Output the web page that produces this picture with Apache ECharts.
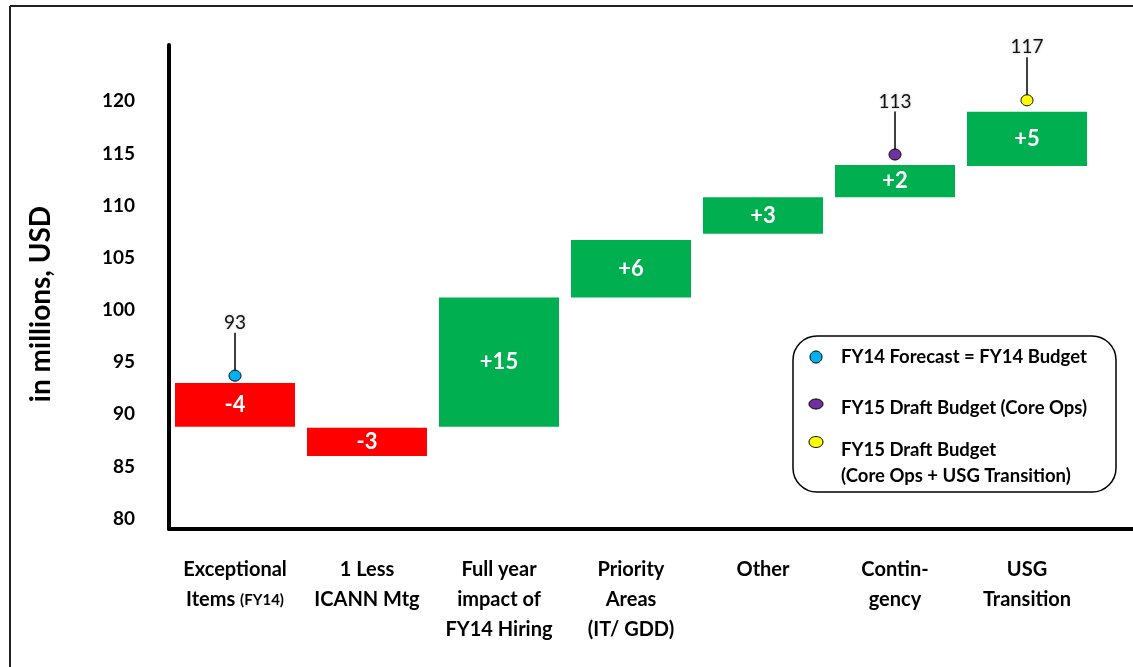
<!DOCTYPE html>
<html>
<head>
<meta charset="utf-8">
<script src="https://cdn.jsdelivr.net/npm/echarts@6.0.0/dist/echarts.min.js"></script>
<style>
  html, body { margin: 0; padding: 0; background: #fff; }
  #main { width: 1133px; height: 667px; }
</style>
</head>
<body>
<div id="main"></div>
<script>
// categories along the bottom
var categories = ['Exceptional\nItems (FY14)', '1 Less\nICANN Mtg', 'Full year\nimpact of\nFY14 Hiring',
    'Priority\nAreas\n(IT/ GDD)', 'Other', 'Contin-\ngency', 'USG\nTransition'];
// waterfall bars: bottom and top of each step
var barLow  = [88.8, 86.0, 88.8, 101.2, 107.3, 110.8, 113.8];
var barHigh = [93.0, 88.7, 101.2, 106.7, 110.8, 113.9, 119.0];
var deltaLabels = ['-4', '-3', '+15', '+6', '+3', '+2', '+5'];
// budget markers
var markerCat = [0, 5, 6];
var markerLevel = [93.7, 114.9, 120.1];
var markerText = ['93', '113', '117'];
var markerColor = ['#00B0F0', '#7030A0', '#FFFF00'];
// y axis tick labels
var yTicks = [80, 85, 90, 95, 100, 105, 110, 115, 120];

var FONT = 'Lato, "Open Sans", sans-serif';
var myChart = echarts.init(document.getElementById('main'));

var baseData = [], deltaData = [];
for (var i = 0; i < categories.length; i++) {
    baseData.push(barLow[i]);
    var up = deltaLabels[i].charAt(0) == '+';
    deltaData.push({
        value: barHigh[i] - barLow[i],
        itemStyle: { color: up ? '#00B050' : '#FF0000' },
        label: { formatter: deltaLabels[i] }
    });
}
var markerData = [];
for (var j = 0; j < markerCat.length; j++) {
    markerData.push([markerCat[j], markerLevel[j], markerText[j], markerColor[j]]);
}

var option = {
    animation: false,
    grid: { left: 169, width: 924, top: 45, bottom: 138 },
    xAxis: {
        type: 'category',
        data: categories,
        axisLine: { lineStyle: { color: '#000', width: 4 } },
        axisTick: { show: false },
        axisLabel: {
            interval: 0,
            margin: 26,
            color: '#000',
            fontFamily: FONT,
            fontWeight: 'bold',
            fontSize: 20,
            lineHeight: 30,
            formatter: function (v) { return v.replace('(FY14)', '{s|(FY14)}'); },
            rich: { s: { fontSize: 15, fontWeight: 'bold', fontFamily: FONT, color: '#000' } }
        }
    },
    yAxis: {
        type: 'value',
        min: 79,
        max: 125.4,
        name: 'in millions, USD',
        nameLocation: 'middle',
        nameRotate: 90,
        nameGap: 114,
        nameTextStyle: { color: '#000', fontFamily: FONT, fontWeight: 'bold', fontSize: 28, padding: [0, 34, 0, 0] },
        axisLine: { show: true, lineStyle: { color: '#000', width: 4 } },
        axisTick: { show: false },
        splitLine: { show: false },
        axisLabel: {
            customValues: yTicks,
            margin: 34,
            color: '#000',
            fontFamily: FONT,
            fontWeight: 'bold',
            fontSize: 19
        }
    },
    series: [
        {
            type: 'bar',
            stack: 'wf',
            data: baseData,
            barWidth: 120,
            itemStyle: { color: 'transparent' },
            silent: true
        },
        {
            type: 'bar',
            stack: 'wf',
            data: deltaData,
            barWidth: 120,
            label: {
                show: true,
                position: 'inside',
                color: '#fff',
                fontFamily: FONT,
                fontWeight: 'bold',
                fontSize: 22
            }
        },
        {
            type: 'custom',
            data: markerData,
            z: 10,
            renderItem: function (params, api) {
                var p = api.coord([api.value(0), api.value(1)]);
                var d = markerData[params.dataIndex];
                return {
                    type: 'group',
                    children: [
                        { type: 'line', shape: { x1: p[0], y1: p[1], x2: p[0], y2: p[1] - 43 },
                          style: { stroke: '#000', lineWidth: 1.5 } },
                        { type: 'ellipse', shape: { cx: p[0], cy: p[1], rx: 6, ry: 5.5 },
                          style: { fill: d[3], stroke: '#000', lineWidth: 1 } },
                        { type: 'text', style: { text: d[2], x: p[0], y: p[1] - 53, align: 'center', verticalAlign: 'middle',
                          fill: '#111', font: '19px ' + FONT, textShadowColor: 'rgba(0,0,0,0.25)', textShadowBlur: 3 } }
                    ]
                };
            }
        }
    ],
    graphic: [
        // outer frame (top and left edges visible)
        { type: 'line', shape: { x1: 10, y1: 6, x2: 1133, y2: 6 }, style: { stroke: '#222', lineWidth: 2 } },
        { type: 'line', shape: { x1: 10, y1: 6, x2: 10, y2: 667 }, style: { stroke: '#222', lineWidth: 2 } },
        // x axis line runs on to the right edge
        { type: 'line', shape: { x1: 1090, y1: 529, x2: 1133, y2: 529 }, style: { stroke: '#000', lineWidth: 4 } },
        // legend box
        { type: 'rect', shape: { x: 793, y: 336, width: 323, height: 156, r: 24 },
          style: { fill: '#fff', stroke: '#000', lineWidth: 1.5 }, z: 5 },
        { type: 'ellipse', shape: { cx: 816, cy: 357, rx: 6, ry: 6 }, style: { fill: '#00B0F0', stroke: '#000', lineWidth: 1 }, z: 6 },
        { type: 'ellipse', shape: { cx: 816, cy: 404, rx: 7, ry: 5 }, style: { fill: '#7030A0', stroke: '#000', lineWidth: 1 }, z: 6 },
        { type: 'ellipse', shape: { cx: 816, cy: 442, rx: 7, ry: 5.5 }, style: { fill: '#FFFF00', stroke: '#000', lineWidth: 1 }, z: 6 },
        { type: 'text', x: 841, y: 357, z: 6, style: { text: 'FY14 Forecast = FY14 Budget', fill: '#000', verticalAlign: 'middle',
          font: 'bold 18.5px ' + FONT } },
        { type: 'text', x: 841, y: 408, z: 6, style: { text: 'FY15 Draft Budget (Core Ops)', fill: '#000', verticalAlign: 'middle',
          font: 'bold 18.5px ' + FONT } },
        { type: 'text', x: 841, y: 450, z: 6, style: { text: 'FY15 Draft Budget', fill: '#000', verticalAlign: 'middle',
          font: 'bold 18.5px ' + FONT } },
        { type: 'text', x: 841, y: 476, z: 6, style: { text: '(Core Ops + USG Transition)', fill: '#000', verticalAlign: 'middle',
          font: 'bold 18.5px ' + FONT } }
    ]
};
myChart.setOption(option);
</script>
</body>
</html>
